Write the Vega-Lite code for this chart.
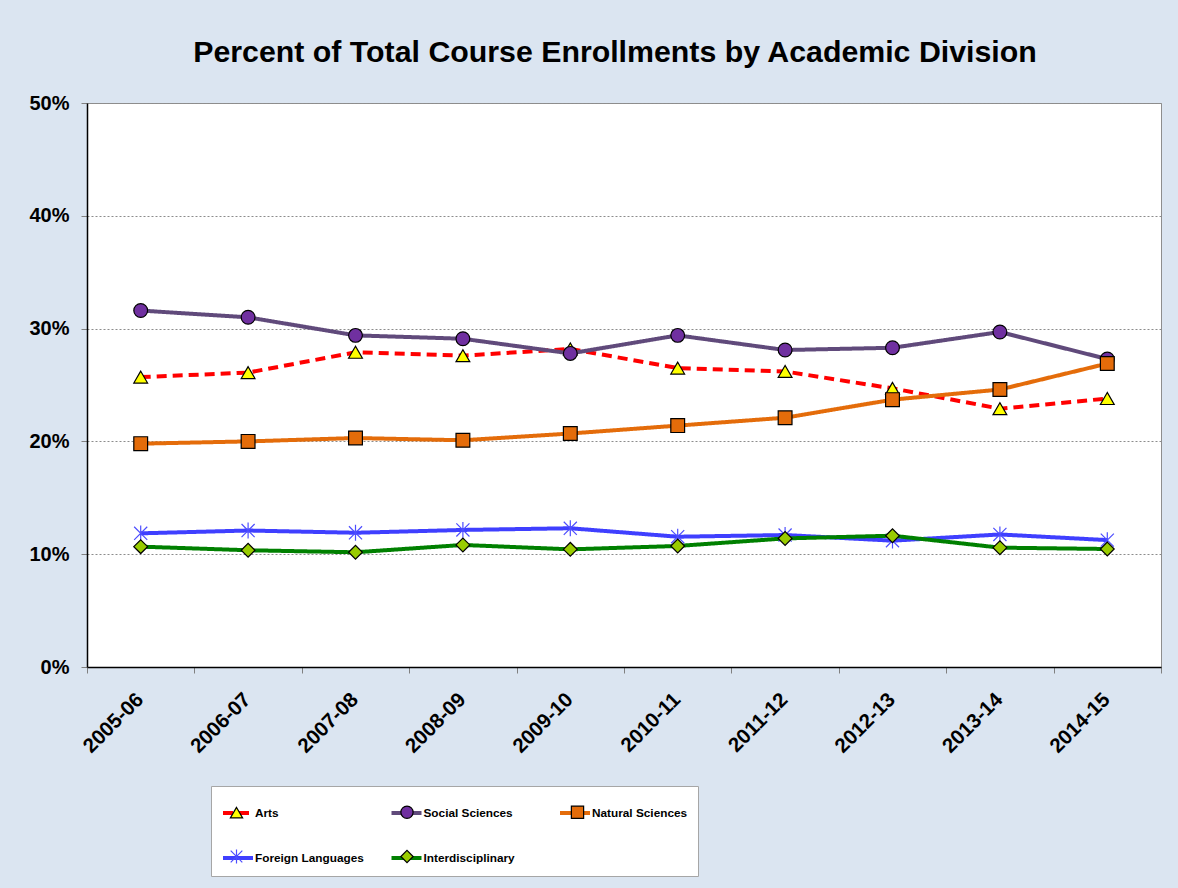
{
  "$schema": "https://vega.github.io/schema/vega-lite/v6.json",
  "width": 1074,
  "height": 564,
  "autosize": "none",
  "padding": {"left": 87, "top": 103, "right": 17, "bottom": 221},
  "background": "#DBE5F1",
  "title": {
    "text": "Percent of Total Course Enrollments by Academic Division",
    "font": "Liberation Sans",
    "fontSize": 30.3,
    "fontWeight": "bold",
    "color": "#000000",
    "anchor": "middle",
    "dx": -9,
    "offset": 25
  },
  "config": {
    "view": {"stroke": "#8E8E8E", "fill": "#FFFFFF", "strokeWidth": 1},
    "axis": {"labelFont": "Liberation Sans", "labelFontWeight": "bold", "labelColor": "#000000", "domainColor": "#000000", "domainWidth": 1.5, "tickColor": "#808080", "tickSize": 6}
  },
  "data": {
    "values": [
      {"year": "2005-06", "division": "Arts", "pct": 0.257},
      {"year": "2006-07", "division": "Arts", "pct": 0.261},
      {"year": "2007-08", "division": "Arts", "pct": 0.279},
      {"year": "2008-09", "division": "Arts", "pct": 0.276},
      {"year": "2009-10", "division": "Arts", "pct": 0.282},
      {"year": "2010-11", "division": "Arts", "pct": 0.265},
      {"year": "2011-12", "division": "Arts", "pct": 0.262},
      {"year": "2012-13", "division": "Arts", "pct": 0.247},
      {"year": "2013-14", "division": "Arts", "pct": 0.229},
      {"year": "2014-15", "division": "Arts", "pct": 0.238},
      {"year": "2005-06", "division": "Social Sciences", "pct": 0.316},
      {"year": "2006-07", "division": "Social Sciences", "pct": 0.310},
      {"year": "2007-08", "division": "Social Sciences", "pct": 0.294},
      {"year": "2008-09", "division": "Social Sciences", "pct": 0.291},
      {"year": "2009-10", "division": "Social Sciences", "pct": 0.278},
      {"year": "2010-11", "division": "Social Sciences", "pct": 0.294},
      {"year": "2011-12", "division": "Social Sciences", "pct": 0.281},
      {"year": "2012-13", "division": "Social Sciences", "pct": 0.283},
      {"year": "2013-14", "division": "Social Sciences", "pct": 0.297},
      {"year": "2014-15", "division": "Social Sciences", "pct": 0.273},
      {"year": "2005-06", "division": "Natural Sciences", "pct": 0.198},
      {"year": "2006-07", "division": "Natural Sciences", "pct": 0.200},
      {"year": "2007-08", "division": "Natural Sciences", "pct": 0.203},
      {"year": "2008-09", "division": "Natural Sciences", "pct": 0.201},
      {"year": "2009-10", "division": "Natural Sciences", "pct": 0.207},
      {"year": "2010-11", "division": "Natural Sciences", "pct": 0.214},
      {"year": "2011-12", "division": "Natural Sciences", "pct": 0.221},
      {"year": "2012-13", "division": "Natural Sciences", "pct": 0.237},
      {"year": "2013-14", "division": "Natural Sciences", "pct": 0.246},
      {"year": "2014-15", "division": "Natural Sciences", "pct": 0.269},
      {"year": "2005-06", "division": "Foreign Languages", "pct": 0.1185},
      {"year": "2006-07", "division": "Foreign Languages", "pct": 0.121},
      {"year": "2007-08", "division": "Foreign Languages", "pct": 0.119},
      {"year": "2008-09", "division": "Foreign Languages", "pct": 0.1215},
      {"year": "2009-10", "division": "Foreign Languages", "pct": 0.123},
      {"year": "2010-11", "division": "Foreign Languages", "pct": 0.1155},
      {"year": "2011-12", "division": "Foreign Languages", "pct": 0.117},
      {"year": "2012-13", "division": "Foreign Languages", "pct": 0.112},
      {"year": "2013-14", "division": "Foreign Languages", "pct": 0.1175},
      {"year": "2014-15", "division": "Foreign Languages", "pct": 0.1125},
      {"year": "2005-06", "division": "Interdisciplinary", "pct": 0.1067},
      {"year": "2006-07", "division": "Interdisciplinary", "pct": 0.1035},
      {"year": "2007-08", "division": "Interdisciplinary", "pct": 0.1017},
      {"year": "2008-09", "division": "Interdisciplinary", "pct": 0.1082},
      {"year": "2009-10", "division": "Interdisciplinary", "pct": 0.1043},
      {"year": "2010-11", "division": "Interdisciplinary", "pct": 0.1073},
      {"year": "2011-12", "division": "Interdisciplinary", "pct": 0.114},
      {"year": "2012-13", "division": "Interdisciplinary", "pct": 0.1164},
      {"year": "2013-14", "division": "Interdisciplinary", "pct": 0.1058},
      {"year": "2014-15", "division": "Interdisciplinary", "pct": 0.1046}
    ]
  },
  "encoding": {
    "x": {
      "field": "year", "type": "ordinal", "sort": null,
      "scale": {"type": "band", "paddingInner": 0, "paddingOuter": 0},
      "axis": {"title": null, "labelAngle": -45, "labelFontSize": 20.5, "labelPadding": 16, "labelOffset": -8, "tickBand": "extent", "grid": false}
    },
    "y": {
      "field": "pct", "type": "quantitative",
      "scale": {"domain": [0, 0.5], "nice": false},
      "axis": {"title": null, "values": [0, 0.1, 0.2, 0.3, 0.4, 0.5], "format": ".0%", "labelFontSize": 20, "labelPadding": 12, "grid": true, "gridColor": "#8C8C8C", "gridDash": [2, 2], "gridWidth": 1}
    }
  },
  "layer": [
    {
      "mark": {"type": "line", "strokeWidth": 4},
      "encoding": {
        "color": {
          "field": "division", "type": "nominal", "sort": null,
          "scale": {"range": ["#FF0000", "#604A7B", "#E46C0A", "#3F3FFF", "#008000"]},
          "legend": {
            "orient": "none",
            "direction": "horizontal",
            "legendX": 124,
            "legendY": 683,
            "columns": 3,
            "gridAlign": "all",
            "columnPadding": 19.5,
            "rowPadding": 20,
            "padding": 10,
            "fillColor": "#FFFFFF",
            "strokeColor": "#A6A6A6",
            "symbolType": "stroke",
            "symbolSize": 900,
            "symbolStrokeWidth": 4,
            "labelFont": "Liberation Sans",
            "labelFontSize": 11.8,
            "labelFontWeight": "bold",
            "labelColor": "#000000",
            "labelOffset": 0,
            "title": null
          }
        },
        "strokeDash": {
          "field": "division", "type": "nominal", "sort": null,
          "scale": {"range": [[10, 6], [1, 0], [1, 0], [1, 0], [1, 0]]},
          "legend": null
        }
      }
    },
    {
      "mark": {"type": "point", "filled": true, "opacity": 1, "size": 190, "strokeWidth": 1.2},
      "encoding": {
        "shape": {
          "field": "division", "type": "nominal",
          "scale": {
            "domain": ["Arts", "Social Sciences", "Natural Sciences", "Foreign Languages", "Interdisciplinary"],
            "range": ["triangle-up", "circle", "square", "M-0.95,-0.95L0.95,0.95M-0.95,0.95L0.95,-0.95M0,-1.15L0,1.15", "diamond"]
          },
          "legend": {
            "orient": "none",
            "direction": "horizontal",
            "legendX": 132.5,
            "legendY": 691.5,
            "columns": 3,
            "gridAlign": "all",
            "columnPadding": 152.5,
            "rowPadding": 25,
            "padding": 10,
            "symbolSize": 150,
            "symbolStrokeWidth": 1.2,
            "labelOffset": 0,
            "labelExpr": "''",
            "title": null
          }
        },
        "fill": {
          "field": "division", "type": "nominal",
          "scale": {
            "domain": ["Arts", "Social Sciences", "Natural Sciences", "Foreign Languages", "Interdisciplinary"],
            "range": ["#FFFF00", "#7030A0", "#E46C0A", "transparent", "#99CC00"]
          },
          "legend": null
        },
        "stroke": {
          "field": "division", "type": "nominal",
          "scale": {
            "domain": ["Arts", "Social Sciences", "Natural Sciences", "Foreign Languages", "Interdisciplinary"],
            "range": ["#000000", "#000000", "#000000", "#4D4DFF", "#000000"]
          },
          "legend": null
        }
      }
    }
  ]
}
